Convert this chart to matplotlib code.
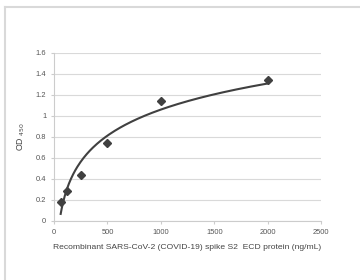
import numpy as np
import matplotlib
matplotlib.use("Agg")
import matplotlib.pyplot as plt
from matplotlib.lines import Line2D

conc = [62.5, 125, 250, 500, 1000, 2000]
od450 = [0.18, 0.28, 0.44, 0.74, 1.14, 1.34]
xticks = [0, 500, 1000, 1500, 2000, 2500]
yticks = [0, 0.2, 0.4, 0.6, 0.8, 1, 1.2, 1.4, 1.6]
ytick_labels = ["0", "0.2", "0.4", "0.6", "0.8", "1", "1.2", "1.4", "1.6"]

plt.rcParams['font.family'] = ['Liberation Sans', 'DejaVu Sans']

fig = plt.figure(figsize=(3.6, 2.8), dpi=100)
ax = fig.add_axes([0.15, 0.211, 0.742, 0.601])

# log trendline like the spreadsheet one
a, b = np.polyfit(np.log(conc), od450, 1)
xs = np.linspace(conc[0], conc[-1], 200)
ax.plot(xs, a * np.log(xs) + b, color='#404040', lw=1.5, zorder=3)
ax.plot(conc, od450, linestyle='none', marker='D', ms=3.8, color='#404040', zorder=4)

ax.set_xlim(0, 2500)
ax.set_ylim(0, 1.6)
ax.set_xticks(xticks)
ax.set_yticks(yticks)
ax.set_yticklabels(ytick_labels)
ax.tick_params(labelsize=5.4, colors='#cccccc', labelcolor='#555555', length=2.5, width=0.8, pad=3)
ax.yaxis.grid(True, color='#d9d9d9', lw=0.8)
ax.set_axisbelow(True)
for s in ['top', 'right']:
    ax.spines[s].set_visible(False)
for s in ['left', 'bottom']:
    ax.spines[s].set_color('#cccccc')
    ax.spines[s].set_linewidth(0.8)

ax.set_xlabel('Recombinant SARS-CoV-2 (COVID-19) spike S2  ECD protein (ng/mL)',
              fontsize=6.1, color='#444444', labelpad=6)
ax.set_ylabel('OD $_{450}$', fontsize=6.3, color='#444444', labelpad=6)

# frame round the picture
fig.add_artist(Line2D([5 / 360, 5 / 360], [0, 1 - 7 / 280], transform=fig.transFigure,
                      color='#d9d9d9', lw=1.5))
fig.add_artist(Line2D([5 / 360, 1], [1 - 7 / 280, 1 - 7 / 280], transform=fig.transFigure,
                      color='#d9d9d9', lw=1.5))

fig.savefig('out.png', dpi=100)
